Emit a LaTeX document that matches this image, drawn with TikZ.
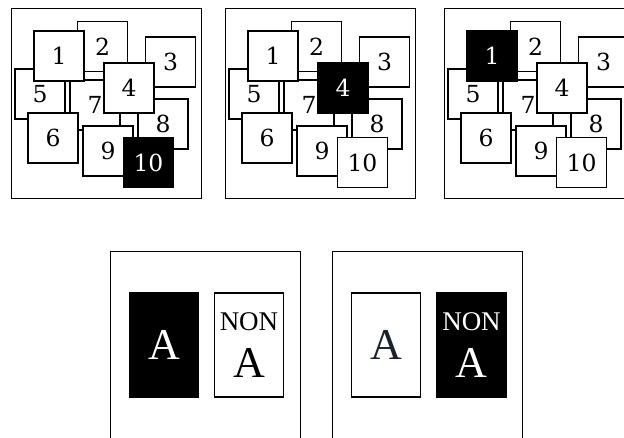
\documentclass[tikz,border=0pt]{standalone}
\usepackage{fontspec}
\setmainfont{Liberation Serif}
\newfontfamily\digitfont{DejaVu Serif}
\usepackage{tikz}
\definecolor{inkA}{RGB}{26,34,46}

\begin{document}
\begin{tikzpicture}[x=1pt, y=-1pt,
  frame/.style={draw, line width=1.1pt, minimum width=190pt, minimum height=#1, anchor=north west, inner sep=0pt},
  frame/.default=190pt,
  card/.style={draw, line width=1.8pt, fill=white, minimum size=50pt, inner sep=0pt, font=\digitfont\fontsize{23.5}{23.5}\selectfont},
  hotcard/.style={card, fill=black, text=white},
  plate/.style={draw, line width=1.8pt, fill=#1, minimum width=69pt, minimum height=104pt, inner sep=0pt, align=center, font=\fontsize{44}{47}\selectfont},
  plate/.default=white]
\useasboundingbox (0,0) rectangle (624,438);
\clip (0,0) rectangle (624,438);
% three panels of overlapping cards, one card picked in each
\foreach \p/\px/\hot in {1/11/10, 2/225/4, 3/444/1} {
  \node[frame] (p\p) at (\px,8) {};
  \foreach \n/\cx/\cy in {2/91.5/38.5, 3/159.5/54, 5/29/86, 7/84/97, 1/48/48, 8/152/116, 4/118/80, 6/42/130, 9/97/143, 10/137.5/154.5} {
    \ifnum\n=\hot \def\kind{hotcard}\else \def\kind{card}\fi
    \node[\kind] (p\p c\n) at ([shift={(\cx,\cy)}]p\p.north west) {\n};
  }
}
% A / NON A panels
\node[frame=230pt] (q1) at (110,251) {};
\node[frame=230pt] (q2) at (332,251) {};
\node[plate=black, text=white] (q1a) at (164,345) {A};
\node[plate] (q1n) at (249,345) {{\fontsize{27}{27}\selectfont NON}\\A};
\node[plate, text=inkA] (q2a) at (386,345) {A};
\node[plate=black, text=white] (q2n) at (471.5,345) {{\fontsize{27}{27}\selectfont NON}\\A};
\end{tikzpicture}
\end{document}
